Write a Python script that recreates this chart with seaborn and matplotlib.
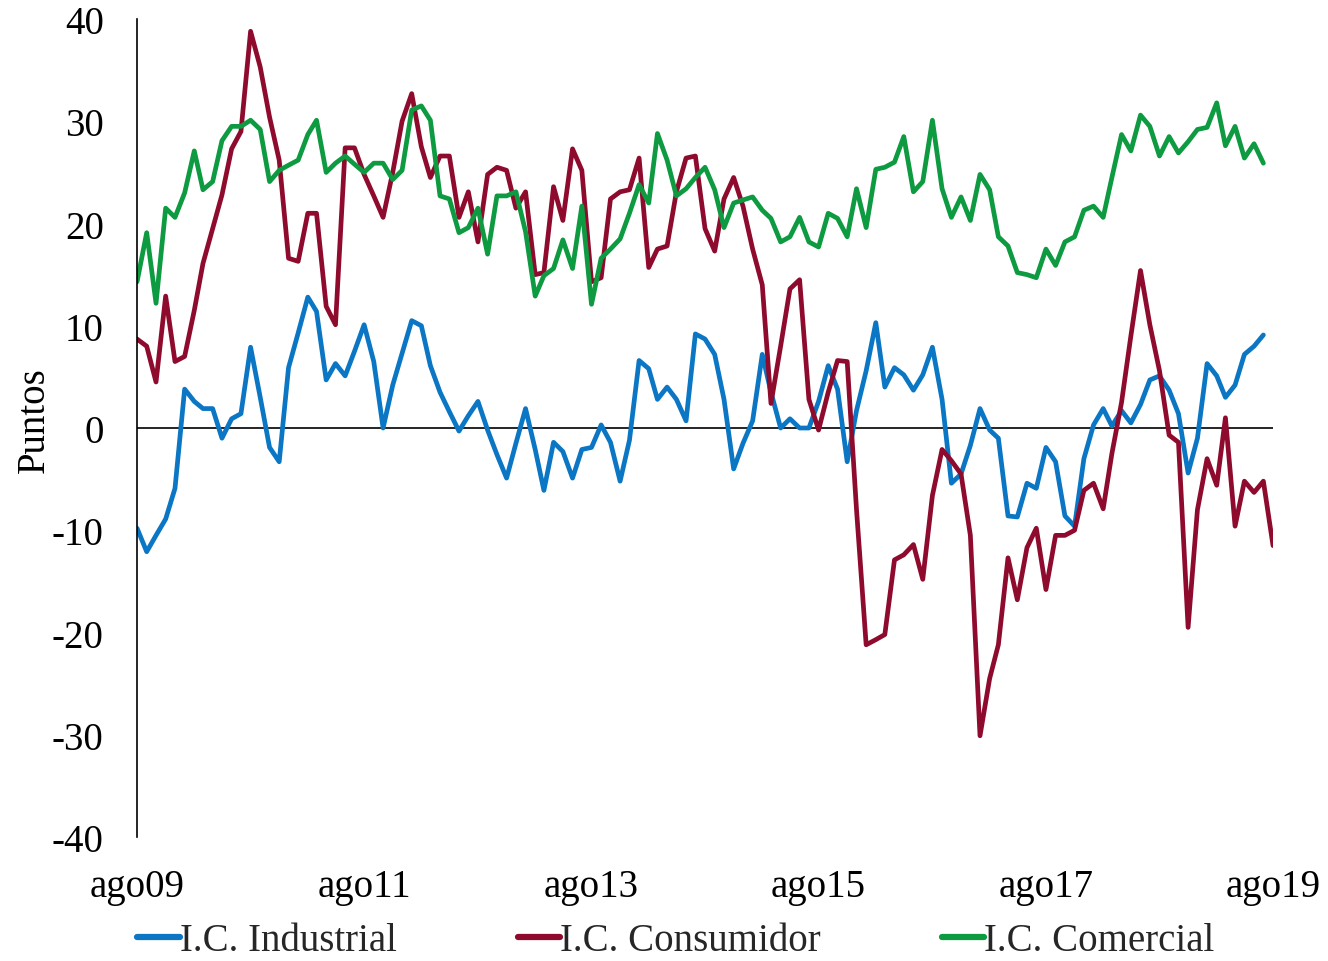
import pandas as pd
import matplotlib
matplotlib.use('Agg')
import matplotlib.pyplot as plt
import seaborn as sns

# indices de confianza, mensual desde ago09
inicio = '2009-08-01'

industrial = [
    -9.8, -12.1, -10.5, -8.9, -5.9, 3.8, 2.6, 1.9, 1.9, -1.0,
    0.9, 1.4, 7.9, 3.0, -1.9, -3.3, 5.9, 9.3, 12.8, 11.4,
    4.7, 6.3, 5.1, 7.5, 10.1, 6.5, 0.0, 4.2, 7.3, 10.5,
    10.0, 6.1, 3.5, 1.6, -0.3, 1.2, 2.6, -0.2, -2.6, -4.9,
    -1.5, 1.9, -2.1, -6.1, -1.4, -2.3, -4.9, -2.1, -1.9, 0.3,
    -1.4, -5.2, -1.2, 6.6, 5.8, 2.8, 4.0, 2.8, 0.7, 9.2,
    8.7, 7.2, 2.8, -4.0, -1.5, 0.7, 7.2, 3.5, 0.0, 0.9,
    0.0, 0.0, 2.6, 6.1, 3.8, -3.3, 1.7, 5.6, 10.3, 4.0,
    5.9, 5.2, 3.7, 5.2, 7.9, 2.8, -5.4, -4.5, -1.7, 1.9,
    -0.2, -1.0, -8.6, -8.7, -5.4, -5.9, -1.9, -3.3, -8.6, -9.6,
    -3.0, 0.3, 1.9, 0.2, 1.7, 0.5, 2.3, 4.7, 5.1, 3.7,
    1.4, -4.4, -1.0, 6.3, 5.1, 3.0, 4.2, 7.2, 8.0, 9.1,
]

consumidor = [
    8.7, 8.0, 4.5, 12.9, 6.5, 7.0, 11.5, 16.1, 19.5, 22.8,
    27.3, 29.0, 38.8, 35.3, 30.4, 26.2, 16.6, 16.3, 21.0, 21.0,
    11.9, 10.1, 27.4, 27.4, 24.8, 22.7, 20.6, 25.0, 30.0, 32.7,
    27.5, 24.5, 26.6, 26.6, 20.6, 23.1, 18.2, 24.8, 25.5, 25.2,
    21.5, 23.1, 15.0, 15.2, 23.6, 20.3, 27.3, 25.2, 14.3, 14.7,
    22.4, 23.1, 23.3, 26.4, 15.7, 17.5, 17.8, 23.1, 26.4, 26.6,
    19.5, 17.3, 22.4, 24.5, 21.7, 17.5, 14.0, 2.4, 8.0, 13.6,
    14.5, 2.8, -0.2, 3.5, 6.6, 6.5, -8.0, -21.2, -20.7, -20.2,
    -12.9, -12.4, -11.4, -14.8, -6.6, -2.1, -3.2, -4.5, -10.5, -30.1,
    -24.5, -21.2, -12.7, -16.8, -11.7, -9.8, -15.8, -10.5, -10.5, -10.0,
    -6.1, -5.4, -7.9, -2.5, 2.5, 9.0, 15.4, 10.1, 5.6, -0.7,
    -1.4, -19.5, -8.0, -3.0, -5.6, 1.0, -9.6, -5.2, -6.3, -5.2,
    -11.5,
]

comercial = [
    14.3, 19.1, 12.2, 21.5, 20.6, 23.0, 27.1, 23.3, 24.1, 28.1,
    29.5, 29.5, 30.1, 29.2, 24.1, 25.2, 25.7, 26.2, 28.7, 30.1,
    25.0, 25.9, 26.6, 25.8, 25.0, 25.9, 25.9, 24.3, 25.2, 31.1,
    31.5, 30.1, 22.7, 22.4, 19.1, 19.6, 21.5, 17.0, 22.7, 22.7,
    23.1, 19.2, 12.9, 14.9, 15.6, 18.4, 15.6, 21.7, 12.1, 16.6,
    17.5, 18.5, 21.0, 23.8, 22.0, 28.8, 26.2, 22.7, 23.4, 24.5,
    25.5, 23.3, 19.6, 22.0, 22.3, 22.6, 21.3, 20.5, 18.2, 18.7,
    20.6, 18.2, 17.7, 21.0, 20.5, 18.7, 23.4, 19.6, 25.3, 25.5,
    26.0, 28.5, 23.1, 24.1, 30.1, 23.4, 20.6, 22.6, 20.3, 24.8,
    23.3, 18.7, 17.8, 15.2, 15.0, 14.7, 17.5, 15.9, 18.2, 18.7,
    21.3, 21.7, 20.6, 24.5, 28.7, 27.1, 30.6, 29.5, 26.6, 28.5,
    26.9, 28.0, 29.2, 29.4, 31.8, 27.6, 29.5, 26.4, 27.8, 25.9,
]

series = ['I.C. Industrial', 'I.C. Consumidor', 'I.C. Comercial']
colores = ['#0a76c4', '#8e0b2e', '#0d9a40']

tick_fechas = ['2009-08-01', '2011-08-01', '2013-08-01',
               '2015-08-01', '2017-08-01', '2019-08-01']
tick_labels = ['ago09', 'ago11', 'ago13', 'ago15', 'ago17', 'ago19']
y_ticks = [-40, -30, -20, -10, 0, 10, 20, 30, 40]


def armar_tabla():
    partes = []
    for nombre, valores in zip(series, [industrial, consumidor, comercial]):
        fechas = pd.date_range(inicio, periods=len(valores), freq='MS')
        partes.append(pd.DataFrame({'fecha': fechas, 'valor': valores, 'serie': nombre}))
    return pd.concat(partes, ignore_index=True)


if __name__ == '__main__':
    sns.set_theme(style='white')
    plt.rcParams['font.family'] = ['Liberation Serif', 'DejaVu Serif']

    df = armar_tabla()

    fig = plt.figure(figsize=(13.28, 9.62), dpi=100)
    ax = fig.add_axes([0.1032, 0.1289, 0.8554, 0.8503])

    sns.lineplot(data=df, x='fecha', y='valor', hue='serie', hue_order=series,
                 palette=colores, linewidth=3.4, ax=ax)

    ax.axhline(0, color='black', linewidth=1.2, zorder=1)

    ax.set_ylim(-40, 40)
    ax.set_yticks(y_ticks)
    ax.set_yticklabels([str(t) for t in y_ticks])
    ax.set_xlim(pd.Timestamp(tick_fechas[0]), pd.Timestamp(tick_fechas[-1]))
    ax.set_xticks([pd.Timestamp(f) for f in tick_fechas])
    ax.set_xticklabels(tick_labels)

    ax.tick_params(axis='x', length=0, pad=22, labelsize=28, colors='black')
    ax.tick_params(axis='y', length=0, pad=24, labelsize=28, colors='black')

    for lado in ['top', 'right', 'bottom']:
        ax.spines[lado].set_visible(False)
    ax.spines['left'].set_color('black')
    ax.spines['left'].set_linewidth(1.2)

    ax.set_xlabel('')
    ax.set_ylabel('Puntos', fontsize=28, color='black')
    ax.yaxis.set_label_coords(-0.074, 0.511)

    handles, labels = ax.get_legend_handles_labels()
    ax.get_legend().remove()
    leg = fig.legend(handles, labels, loc='center', bbox_to_anchor=(0.509, 0.021),
                     ncol=3, frameon=False, fontsize=28, handlelength=1.1,
                     handletextpad=0.0, columnspacing=3.1, borderpad=0.1)
    for linea in leg.get_lines():
        linea.set_linewidth(4.5)

    fig.savefig('out.png', dpi=100, facecolor='white')
